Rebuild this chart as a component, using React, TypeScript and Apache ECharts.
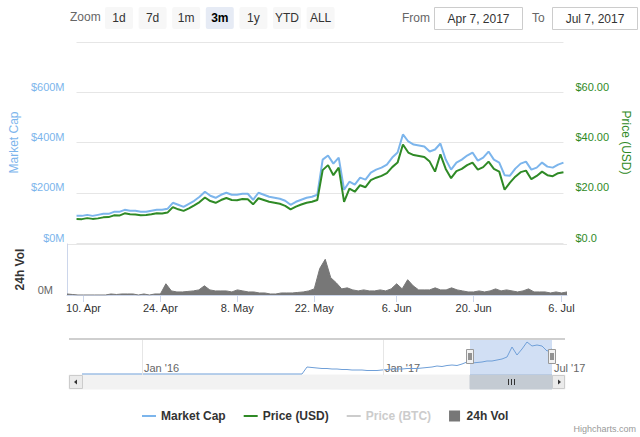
import React, { useEffect, useRef } from "react";
import * as echarts from "echarts";

const FONT = "'Liberation Sans', Arial, Helvetica, sans-serif";

// ---- categories (daily, Apr 7 2017 .. Jul 7 2017) ----
const startDay = "2017-04-07";
const dayCount = 92;
const dates: string[] = Array.from({ length: dayCount }, (_, i) =>
  new Date(Date.parse(startDay + "T00:00:00Z") + i * 86400000).toISOString().slice(0, 10)
);
const tickDates = ["2017-04-10", "2017-04-24", "2017-05-08", "2017-05-22", "2017-06-06", "2017-06-20", "2017-07-06"];
const monthNames = ["Jan", "Feb", "Mar", "Apr", "May", "Jun", "Jul", "Aug", "Sep", "Oct", "Nov", "Dec"];

// ---- series values ----
// Market cap, $M
const marketCap = [
  108, 108, 112, 108, 112, 116, 116, 124, 124, 132,
  128, 128, 124, 124, 128, 132, 132, 136, 160, 152,
  144, 156, 168, 184, 204, 188, 180, 192, 200, 192,
  192, 196, 196, 172, 200, 192, 184, 180, 176, 168,
  152, 164, 172, 180, 184, 192, 332, 348, 316, 340,
  212, 244, 232, 260, 252, 280, 292, 300, 312, 340,
  360, 432, 404, 392, 388, 384, 364, 372, 396, 332,
  292, 320, 332, 348, 360, 328, 340, 364, 332, 320,
  270, 268, 296, 316, 324, 292, 300, 320, 304, 300,
  312, 320,
];
// Price, USD
const priceUSD = [
  9.6, 9.5, 9.9, 9.6, 9.8, 10.2, 10.3, 11.0, 10.9, 11.8,
  11.4, 11.3, 11.0, 11.1, 11.4, 11.8, 11.7, 12.1, 14.3, 13.4,
  12.8, 13.8, 15.0, 16.3, 18.1, 16.7, 16.0, 17.1, 17.9, 17.1,
  17.0, 17.5, 17.4, 15.4, 17.8, 17.1, 16.4, 16.0, 15.6, 14.8,
  13.4, 14.5, 15.3, 16.0, 16.4, 17.1, 29.0, 31.0, 27.0, 30.0,
  16.4, 21.6, 20.4, 23.0, 22.2, 25.0, 26.0, 26.7, 27.8, 30.2,
  32.0, 39.2, 36.0, 35.0, 34.6, 34.2, 32.4, 28.4, 35.3, 29.5,
  25.8, 28.6, 29.5, 31.0, 32.0, 29.2, 30.2, 32.4, 29.5, 28.4,
  21.2, 24.0, 26.4, 28.2, 28.8, 25.4, 26.7, 28.4, 27.0, 26.6,
  27.8, 28.2,
];
// Price, BTC (hidden series)
const priceBTC: number[] = [];
// 24h volume, $M
const volume24h = [
  1, 0.5, 0, 0, 0, 0, 0, 0, 1, 0.5,
  1, 1, 1, 0, 1, 0, 1, 1, 11, 4,
  3, 3, 3.5, 4, 5, 9, 5, 4, 4, 4,
  3, 5, 4, 3, 3, 2, 2, 1, 1, 2,
  2, 2, 2.5, 3, 4, 6, 26, 35, 17, 12,
  6, 7, 5, 4, 5, 4, 4, 5, 4, 6,
  11, 6, 15, 9, 5, 5, 5, 7, 5, 5,
  7, 5, 4, 3, 3, 4, 3, 4, 6, 4,
  5, 4, 3, 4, 6, 3, 3, 3, 2, 3,
  2, 3,
];
// Navigator (full history, evenly spaced points)
const navigatorCap = [
  1, 1, 1, 1, 1, 1, 1, 1, 1, 1,
  1, 1, 1, 1, 1, 1, 1, 1, 1, 1,
  1, 1, 1, 1, 1, 1, 1, 1, 1, 1,
  1, 1, 1, 1, 1, 1, 1, 1, 1, 1,
  1, 1, 1, 1, 1,
  8, 7.5, 7, 6.5, 6.5, 6, 6, 5.5, 5.5, 5, 5, 5, 4.5, 4.5, 4.5, 5,
  5.5, 6, 6, 6, 6.5, 6.5, 6.5, 7, 7.5, 8, 9, 8.5, 9.5, 10, 9.5, 11, 13,
  12, 12.5, 13, 14, 14, 15, 16, 18, 28, 20, 26, 33, 29, 30, 29, 24, 26,
];
const navigatorTickAt = [12, 60.2, 94];
const navigatorTickText = ["Jan '16", "Jan '17", "Jul '17"];
const navigatorSelection = [77.6, 94];

const rangeButtons = ["1d", "7d", "1m", "3m", "1y", "YTD", "ALL"];
const selectedButton = "3m";

const BLUE = "#7cb5ec";
const GREEN = "#2f8a26";
const VOL = "#777777";
const LINE_ICON = "path://M0,0H14V2H0Z";
const SQUARE_ICON = "path://M0,0H10V10H0Z";

function fmtDate(v: string) {
  const [, m, d] = v.split("-");
  return `${+d}. ${monthNames[+m - 1]}`;
}

function buildOption() {
  const graphics: any[] = [];
  // range selector
  graphics.push({ type: "text", left: 70, top: 11, style: { text: "Zoom", fill: "#666", font: `12px ${FONT}` } });
  rangeButtons.forEach((b, i) => {
    const x = 105 + i * 33.6;
    const sel = b === selectedButton;
    graphics.push({ type: "rect", shape: { x, y: 7, width: 28, height: 22, r: 2 }, style: { fill: sel ? "#e6ebf5" : "#f7f7f7" } });
    graphics.push({
      type: "text",
      x: x + 14,
      y: 18,
      style: { text: b, fill: sel ? "#000" : "#333", font: `${sel ? "bold " : ""}12px ${FONT}`, align: "center", verticalAlign: "middle" },
    });
  });
  graphics.push({ type: "text", x: 402, y: 18, style: { text: "From", fill: "#666", font: `12px ${FONT}`, verticalAlign: "middle" } });
  graphics.push({ type: "rect", shape: { x: 434.5, y: 7.5, width: 88, height: 22 }, style: { fill: "#fff", stroke: "#cccccc", lineWidth: 1 } });
  graphics.push({ type: "text", x: 478.5, y: 18.5, style: { text: "Apr 7, 2017", fill: "#333", font: `12px ${FONT}`, align: "center", verticalAlign: "middle" } });
  graphics.push({ type: "text", x: 532, y: 18, style: { text: "To", fill: "#666", font: `12px ${FONT}`, verticalAlign: "middle" } });
  graphics.push({ type: "rect", shape: { x: 552.5, y: 7.5, width: 85, height: 22 }, style: { fill: "#fff", stroke: "#cccccc", lineWidth: 1 } });
  graphics.push({ type: "text", x: 595, y: 18.5, style: { text: "Jul 7, 2017", fill: "#333", font: `12px ${FONT}`, align: "center", verticalAlign: "middle" } });

  // navigator outline
  graphics.push({ type: "line", shape: { x1: 69, y1: 339, x2: 565, y2: 339 }, style: { stroke: "#cfcfcf", lineWidth: 2 }, z: 10 });
  // scrollbar
  graphics.push({ type: "rect", shape: { x: 69, y: 375, width: 496, height: 14 }, style: { fill: "#f2f2f2", stroke: "#f2f2f2" } });
  graphics.push({ type: "rect", shape: { x: 69.5, y: 375.5, width: 13, height: 13 }, style: { fill: "#ebebeb", stroke: "#cccccc" } });
  graphics.push({ type: "polygon", shape: { points: [[74, 382], [77, 379.5], [77, 384.5]] }, style: { fill: "#333" } });
  graphics.push({ type: "rect", shape: { x: 552.5, y: 375.5, width: 12, height: 13 }, style: { fill: "#ebebeb", stroke: "#cccccc" } });
  graphics.push({ type: "polygon", shape: { points: [[561, 382], [558, 379.5], [558, 384.5]] }, style: { fill: "#333" } });
  graphics.push({ type: "rect", shape: { x: 470, y: 375, width: 82, height: 14 }, style: { fill: "#c4cbd3", stroke: "#c4cbd3" } });
  [508, 511, 514].forEach((gx) =>
    graphics.push({ type: "line", shape: { x1: gx + 0.5, y1: 379, x2: gx + 0.5, y2: 385 }, style: { stroke: "#333", lineWidth: 1 } })
  );
  // handles
  [470, 552].forEach((hx) => {
    graphics.push({ type: "rect", shape: { x: hx - 3.5, y: 349.5, width: 7, height: 14 }, style: { fill: "#f2f2f2", stroke: "#999" }, z: 20 });
    graphics.push({ type: "line", shape: { x1: hx - 1, y1: 353, x2: hx - 1, y2: 360 }, style: { stroke: "#333", lineWidth: 1 }, z: 21 });
    graphics.push({ type: "line", shape: { x1: hx + 1, y1: 353, x2: hx + 1, y2: 360 }, style: { stroke: "#333", lineWidth: 1 }, z: 21 });
  });
  // credits
  graphics.push({ type: "text", x: 636, y: 429, style: { text: "Highcharts.com", fill: "#999", font: `9px ${FONT}`, align: "right", verticalAlign: "middle" } });

  const navData = navigatorCap.map((v, i) => [i, v]);

  return {
    animation: false,
    backgroundColor: "#fff",
    textStyle: { fontFamily: FONT },
    legend: {
      left: 137,
      top: 405,
      itemWidth: 14,
      itemHeight: 11,
      itemGap: 18,
      inactiveColor: "#cccccc",
      textStyle: { fontSize: 12, fontWeight: "bold", color: "#333", fontFamily: FONT },
      data: [
        { name: "Market Cap", icon: LINE_ICON },
        { name: "Price (USD)", icon: LINE_ICON },
        { name: "Price (BTC)", icon: LINE_ICON },
        { name: "24h Vol", icon: SQUARE_ICON },
      ],
      selected: { "Price (BTC)": false },
    },
    grid: [
      { left: 67, width: 500, top: 42, height: 201 },
      { left: 67, width: 500, top: 244, height: 51 },
      { left: 82, width: 470, top: 339, height: 36 },
    ],
    xAxis: [
      { type: "category", gridIndex: 0, data: dates, boundaryGap: false, show: false },
      {
        type: "category",
        gridIndex: 1,
        data: dates,
        boundaryGap: false,
        axisLine: { lineStyle: { color: "#ccd6eb" } },
        axisTick: {
          interval: (_i: number, v: string) => tickDates.includes(v),
          length: 7,
          lineStyle: { color: "#ccd6eb" },
        },
        axisLabel: {
          interval: (_i: number, v: string) => tickDates.includes(v),
          formatter: fmtDate,
          color: "#333",
          fontSize: 11,
          margin: 7,
          fontFamily: FONT,
        },
        splitLine: { show: false },
      },
      {
        type: "value",
        gridIndex: 2,
        min: 0,
        max: 94,
        axisLine: { show: false },
        axisTick: { show: false },
        splitLine: { show: false },
        axisLabel: {
          customValues: navigatorTickAt,
          inside: true,
          align: "left",
          verticalAlign: "bottom",
          margin: 2,
          padding: [0, 0, 0, 2],
          color: "#666",
          fontSize: 11,
          fontFamily: FONT,
          formatter: (v: number) => {
            const k = navigatorTickAt.findIndex((t) => Math.abs(t - v) < 0.01);
            return k >= 0 ? navigatorTickText[k] : "";
          },
        },
      },
    ],
    yAxis: [
      {
        type: "value",
        gridIndex: 0,
        min: 0,
        max: 800,
        interval: 200,
        name: "Market Cap",
        nameLocation: "middle",
        nameGap: 52,
        nameRotate: 90,
        nameTextStyle: { color: BLUE, fontSize: 12, fontFamily: FONT },
        axisLine: { show: false },
        axisTick: { show: false },
        splitLine: { lineStyle: { color: "#e6e6e6" } },
        axisLabel: {
          color: BLUE,
          fontSize: 11,
          margin: 12,
          verticalAlign: "bottom",
          showMaxLabel: false,
          formatter: (v: number) => (v === 800 ? "" : `$${v}M`),
        },
      },
      {
        type: "value",
        gridIndex: 0,
        position: "right",
        min: 0,
        max: 80,
        interval: 20,
        name: "Price (USD)",
        nameLocation: "middle",
        nameGap: 54,
        nameRotate: -90,
        nameTextStyle: { color: GREEN, fontSize: 12, fontFamily: FONT },
        axisLine: { show: false },
        axisTick: { show: false },
        splitLine: { show: false },
        axisLabel: {
          color: GREEN,
          fontSize: 11,
          margin: 12,
          verticalAlign: "bottom",
          showMaxLabel: false,
          formatter: (v: number) => (v === 0 ? "$0.0" : v === 80 ? "" : `$${v.toFixed(2)}`),
        },
      },
      {
        type: "value",
        gridIndex: 1,
        min: 0,
        max: 50,
        interval: 50,
        name: "24h Vol",
        nameLocation: "middle",
        nameGap: 41,
        nameRotate: 90,
        nameTextStyle: { color: "#333", fontSize: 12, fontWeight: "bold", fontFamily: FONT },
        axisLine: { show: true, lineStyle: { color: "#ccd6eb" } },
        axisTick: { show: false },
        splitLine: { lineStyle: { color: "#e6e6e6" } },
        axisLabel: {
          color: "#666",
          fontSize: 11,
          margin: 14,
          verticalAlign: "bottom",
          showMaxLabel: false,
          formatter: (v: number) => (v === 0 ? "0M" : ""),
        },
      },
      { type: "value", gridIndex: 2, min: 0, max: 36, show: false, splitLine: { show: false } },
    ],
    series: [
      {
        name: "Market Cap",
        type: "line",
        xAxisIndex: 0,
        yAxisIndex: 0,
        data: marketCap,
        symbol: "none",
        color: BLUE,
        lineStyle: { width: 2, color: BLUE },
      },
      {
        name: "Price (USD)",
        type: "line",
        xAxisIndex: 0,
        yAxisIndex: 1,
        data: priceUSD,
        symbol: "none",
        color: GREEN,
        lineStyle: { width: 2, color: GREEN },
      },
      {
        name: "Price (BTC)",
        type: "line",
        xAxisIndex: 0,
        yAxisIndex: 1,
        data: priceBTC,
        symbol: "none",
        color: "#cccccc",
        lineStyle: { width: 2 },
      },
      {
        name: "24h Vol",
        type: "line",
        xAxisIndex: 1,
        yAxisIndex: 2,
        data: volume24h,
        symbol: "none",
        color: VOL,
        lineStyle: { width: 1, color: VOL },
        areaStyle: { color: VOL, opacity: 1 },
      },
      {
        name: "navigator",
        type: "line",
        xAxisIndex: 2,
        yAxisIndex: 3,
        data: navData,
        symbol: "none",
        color: "#6f9fd8",
        lineStyle: { width: 1, color: "#6f9fd8" },
        silent: true,
        markLine: {
          silent: true,
          symbol: "none",
          label: { show: false },
          lineStyle: { color: "#e6e6e6", type: "solid", width: 1 },
          data: [{ xAxis: navigatorTickAt[0] }, { xAxis: navigatorTickAt[1] }],
        },
        markArea: {
          silent: true,
          itemStyle: { color: "rgba(102,150,220,0.3)" },
          data: [[{ xAxis: navigatorSelection[0] }, { xAxis: navigatorSelection[1] }]],
        },
      },
    ],
    graphic: graphics,
  };
}

export default function App() {
  const ref = useRef<HTMLDivElement>(null);
  useEffect(() => {
    const chart = echarts.init(ref.current!, null, { renderer: "svg" });
    chart.setOption(buildOption() as any);
    return () => chart.dispose();
  }, []);
  return (
    <div
      ref={ref}
      style={{ position: "fixed", left: 0, top: 0, width: 640, height: 437, background: "#fff" }}
    />
  );
}
